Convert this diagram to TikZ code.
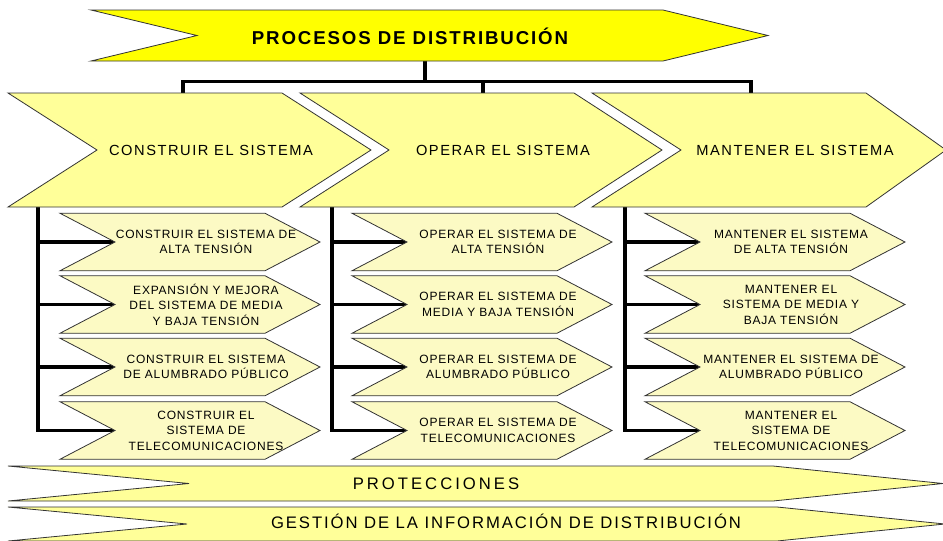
\documentclass[tikz,border=0pt]{standalone}
\usepackage{fontspec}
\setmainfont{Liberation Sans}
\definecolor{topY}{HTML}{FFFF00}
\definecolor{midY}{HTML}{FFFF99}
\definecolor{subY}{HTML}{FCFAC4}
\definecolor{edgeC}{HTML}{333333}
\tikzset{
  outline/.style={draw=edgeC, line width=0.6pt, line join=miter},
  topshape/.style={outline, fill=topY},
  midshape/.style={outline, fill=midY},
  subshape/.style={outline, fill=subY},
  conn/.style={draw=black, line width=2.4pt},
  toptext/.style={inner sep=0pt, font=\fontsize{14}{16}\selectfont\bfseries\addfontfeature{LetterSpace=10}},
  midtext/.style={inner sep=0pt, font=\fontsize{11}{13}\selectfont\addfontfeature{LetterSpace=10.5}},
  subtext/.style={inner sep=0pt, align=center, font=\fontsize{9}{11.6}\selectfont\addfontfeature{LetterSpace=6.5}},
  bandtextA/.style={inner sep=0pt, font=\fontsize{12.5}{14}\selectfont\addfontfeature{LetterSpace=18}},
  bandtextB/.style={inner sep=0pt, font=\fontsize{12.5}{14}\selectfont\addfontfeature{LetterSpace=11.5}},
}
\newcommand\subchev[4]{%
  \path[subshape] (#2,{#3-28.75}) -- ({#2+205},{#3-28.75}) -- ({#2+260},#3) -- ({#2+205},{#3+28.75}) -- (#2,{#3+28.75}) -- ({#2+55},#3) -- cycle;
  \coordinate (#1-w) at ({#2+55},#3);
  \node[subtext] (#1) at ({#2+146},#3) {#4};
}
\newcommand\midchev[4]{%
  \path[midshape] (#2,93) -- ({#2+274},93) -- (#4,150) -- ({#2+274},207) -- (#2,207) -- ({#2+89},150) -- cycle;
  \node[midtext] (#1) at ({#2+203},150) {#3};
}
\begin{document}
\begin{tikzpicture}[x=0.75pt, y=-0.75pt]
\useasboundingbox (0,0) rectangle (943,540);
\fill[white] (0,0) rectangle (943,540);
\clip (0,0) rectangle (943,540);

% connector coordinates
\coordinate (top-s) at (425,61);
\coordinate (bus) at (425,81.5);
\coordinate (c1-n) at (183,93);
\coordinate (c2-n) at (483,93);
\coordinate (c3-n) at (751,93);
\coordinate (c1-s) at (38,207);
\coordinate (c2-s) at (332,207);
\coordinate (c3-s) at (625,207);
\foreach \n/\L in {a/60,b/352,c/645}{
  \coordinate (\n1-w) at ({\L+55},242);
  \coordinate (\n2-w) at ({\L+55},304.5);
  \coordinate (\n3-w) at ({\L+55},367);
  \coordinate (\n4-w) at ({\L+55},430.5);
}

% connectors
\draw[conn] (top-s) -- (bus);
\draw[conn] (bus) -| (c1-n);
\draw[conn] (bus) -| (c2-n);
\draw[conn] (bus) -| (c3-n);
\foreach \c/\n in {c1/a,c2/b,c3/c}{
  \foreach \i in {1,2,3,4}{
    \draw[conn] (\c-s) |- (\n\i-w);
  }
}

% top chevron
\path[topshape] (91,10) -- (663,10) -- (768,35.5) -- (663,61) -- (91,61) -- (197,35.5) -- cycle;
\node[toptext] (top) at (410,36) {PROCESOS DE DISTRIBUCIÓN};

% level 2
\midchev{c1}{8}{CONSTRUIR EL SISTEMA}{371}
\midchev{c2}{300}{OPERAR EL SISTEMA}{662}
\midchev{c3}{592}{MANTENER EL SISTEMA}{946}

% sub chevrons
\subchev{a1}{60}{242}{CONSTRUIR EL SISTEMA DE\\ALTA TENSIÓN}
\subchev{a2}{60}{304.5}{EXPANSIÓN Y MEJORA\\DEL SISTEMA DE MEDIA\\Y BAJA TENSIÓN}
\subchev{a3}{60}{367}{CONSTRUIR EL SISTEMA\\DE ALUMBRADO PÚBLICO}
\subchev{a4}{60}{430.5}{CONSTRUIR EL\\SISTEMA DE\\TELECOMUNICACIONES}

\subchev{b1}{352}{242}{OPERAR EL SISTEMA DE\\ALTA TENSIÓN}
\subchev{b2}{352}{304.5}{OPERAR EL SISTEMA DE\\MEDIA Y BAJA TENSIÓN}
\subchev{b3}{352}{367}{OPERAR EL SISTEMA DE\\ALUMBRADO PÚBLICO}
\subchev{b4}{352}{430.5}{OPERAR EL SISTEMA DE\\TELECOMUNICACIONES}

\subchev{c1}{645}{242}{MANTENER EL SISTEMA\\DE ALTA TENSIÓN}
\subchev{c2}{645}{304.5}{MANTENER EL\\SISTEMA DE MEDIA Y\\BAJA TENSIÓN}
\subchev{c3}{645}{367}{MANTENER EL SISTEMA DE\\ALUMBRADO PÚBLICO}
\subchev{c4}{645}{430.5}{MANTENER EL\\SISTEMA DE\\TELECOMUNICACIONES}

% bottom bands
\path[midshape] (8,466) -- (773,466) -- (943,483.5) -- (773,501) -- (8,501) -- (189,483.5) -- cycle;
\node[bandtextA] (prot) at (436,484) {PROTECCIONES};
\path[midshape] (8,507) -- (777,507) -- (945,524) -- (777,541) -- (8,541) -- (187,524) -- cycle;
\node[bandtextB] (gest) at (506,521) {GESTIÓN DE LA INFORMACIÓN DE DISTRIBUCIÓN};
\end{tikzpicture}
\end{document}
